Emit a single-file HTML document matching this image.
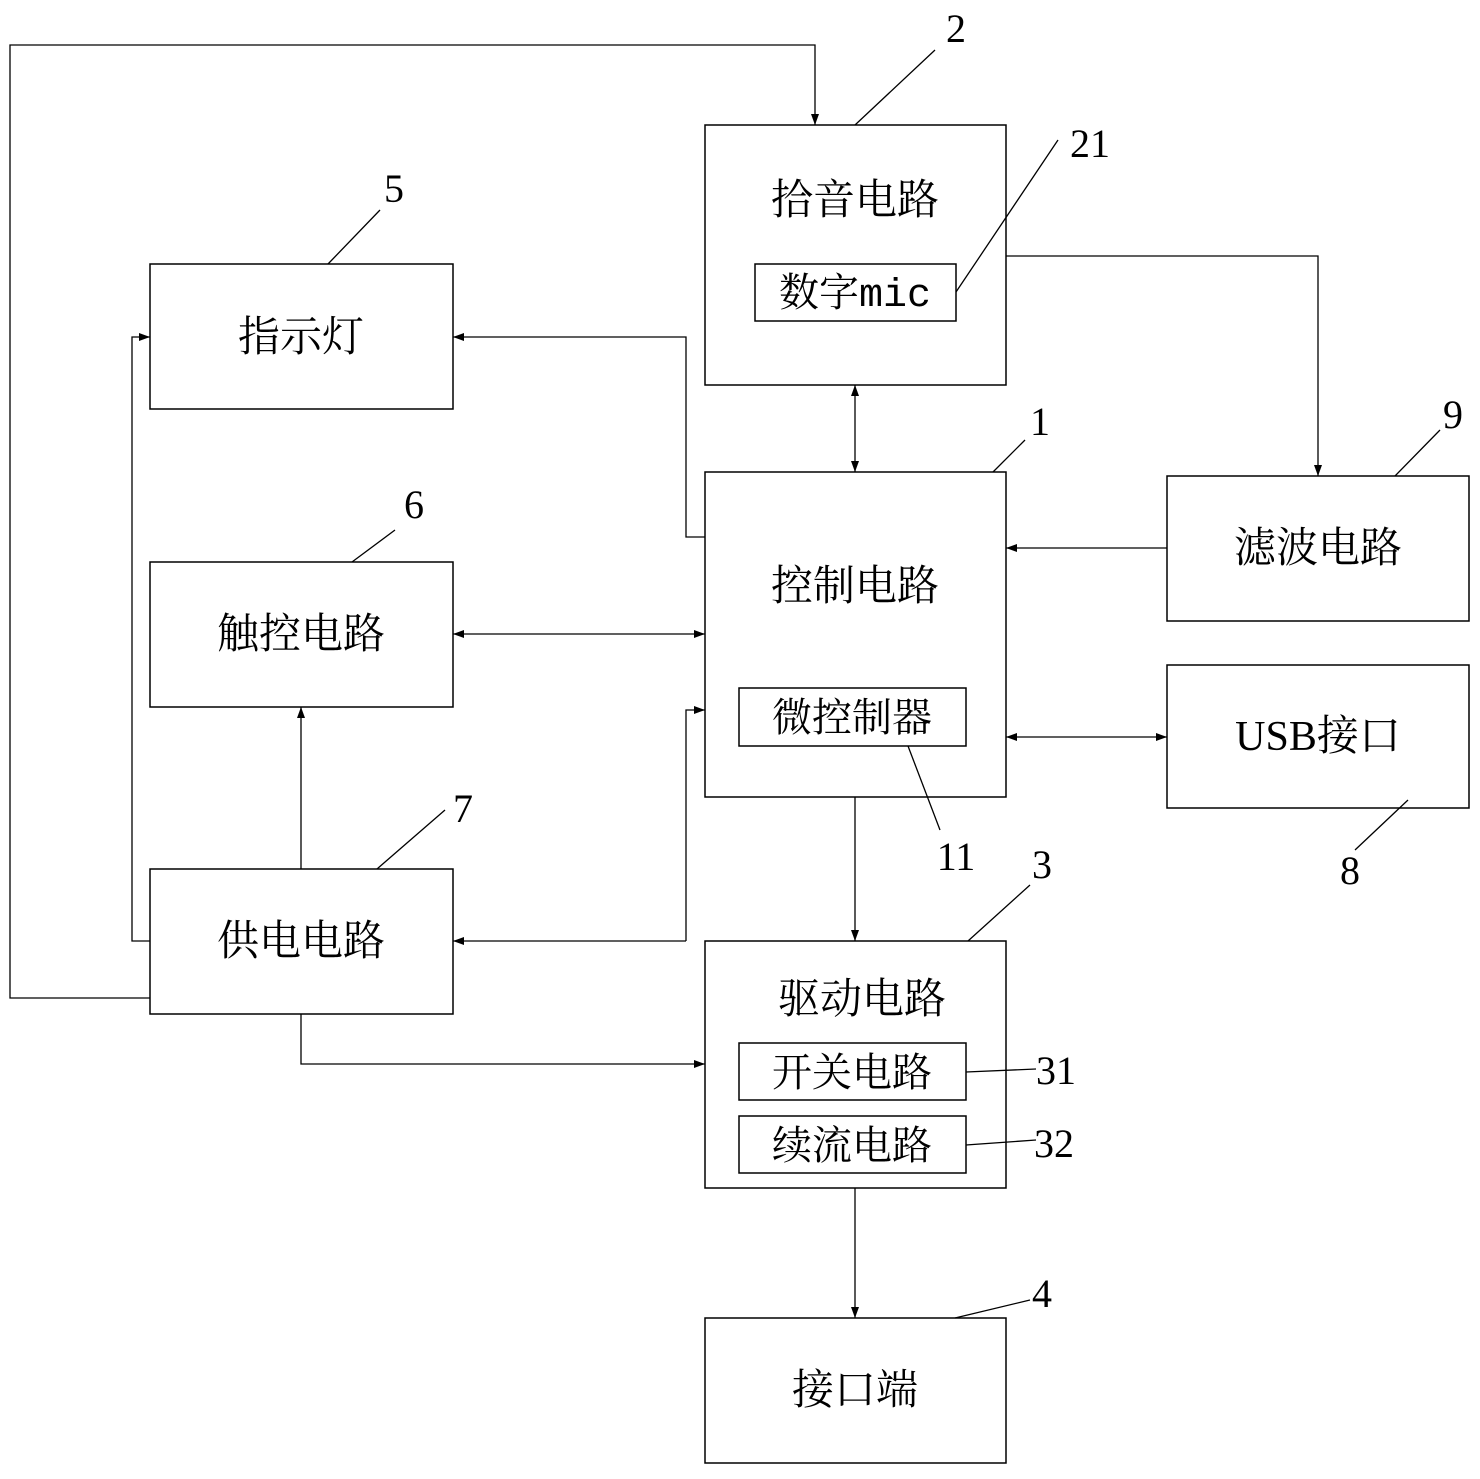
<!DOCTYPE html>
<html><head><meta charset="utf-8"><style>
html,body{margin:0;padding:0;background:#fff;}
svg text{font-family:"Liberation Serif","Noto Serif CJK SC","Noto Sans CJK SC",serif;fill:#000;}
.t{font-size:42px;text-anchor:middle;}
.s{font-size:40px;text-anchor:middle;}
.n{font-size:40px;text-anchor:middle;}
</style></head><body>
<svg width="1480" height="1474" viewBox="0 0 1480 1474" xmlns="http://www.w3.org/2000/svg">
<defs>
<marker id="a" markerWidth="12" markerHeight="10" refX="11" refY="5" orient="auto-start-reverse" markerUnits="userSpaceOnUse">
<path d="M0,1 L11,5 L0,9 Z" fill="#000"/></marker>
</defs>
<g fill="none" stroke="#000" stroke-width="1.5">
<rect x="705" y="125" width="301" height="260"/>
<rect x="755" y="264" width="201" height="57"/>
<rect x="705" y="472" width="301" height="325"/>
<rect x="739" y="688" width="227" height="58"/>
<rect x="705" y="941" width="301" height="247"/>
<rect x="739" y="1043" width="227" height="57"/>
<rect x="739" y="1116" width="227" height="57"/>
<rect x="705" y="1318" width="301" height="145"/>
<rect x="150" y="264" width="303" height="145"/>
<rect x="150" y="562" width="303" height="145"/>
<rect x="150" y="869" width="303" height="145"/>
<rect x="1167" y="476" width="302" height="145"/>
<rect x="1167" y="665" width="302" height="143"/>
</g>
<g fill="none" stroke="#000" stroke-width="1.3">
<polyline points="150,998 10,998 10,45 815,45 815,125" marker-end="url(#a)"/>
<polyline points="150,941 132,941 132,337 150,337" marker-end="url(#a)"/>
<line x1="301" y1="869" x2="301" y2="707" marker-end="url(#a)"/>
<polyline points="686,941 453,941" marker-end="url(#a)"/>
<polyline points="686,941 686,710 705,710" marker-end="url(#a)"/>
<polyline points="301,1014 301,1064 705,1064" marker-end="url(#a)"/>
<polyline points="705,537 686,537 686,337 453,337" marker-end="url(#a)"/>
<line x1="453" y1="634" x2="705" y2="634" marker-start="url(#a)" marker-end="url(#a)"/>
<line x1="855" y1="385" x2="855" y2="472" marker-start="url(#a)" marker-end="url(#a)"/>
<polyline points="1006,256 1318,256 1318,476" marker-end="url(#a)"/>
<line x1="1167" y1="548" x2="1006" y2="548" marker-end="url(#a)"/>
<line x1="1006" y1="737" x2="1167" y2="737" marker-start="url(#a)" marker-end="url(#a)"/>
<line x1="855" y1="797" x2="855" y2="941" marker-end="url(#a)"/>
<line x1="855" y1="1188" x2="855" y2="1318" marker-end="url(#a)"/>
<line x1="855" y1="125" x2="935" y2="50"/>
<line x1="956" y1="292" x2="1058" y2="140"/>
<line x1="328" y1="264" x2="380" y2="210"/>
<line x1="993" y1="472" x2="1025" y2="440"/>
<line x1="1395" y1="476" x2="1440" y2="430"/>
<line x1="352" y1="562" x2="395" y2="530"/>
<line x1="377" y1="869" x2="445" y2="810"/>
<line x1="908" y1="746" x2="940" y2="830"/>
<line x1="1408" y1="800" x2="1355" y2="850"/>
<line x1="968" y1="941" x2="1030" y2="885"/>
<line x1="966" y1="1072" x2="1036" y2="1069"/>
<line x1="966" y1="1145" x2="1036" y2="1140"/>
<line x1="955" y1="1318" x2="1030" y2="1300"/>
</g>
<text class="t" x="855" y="214">拾音电路</text>
<text class="s" x="855" y="306">数字<tspan font-family="Liberation Mono, monospace">mic</tspan></text>
<text class="t" x="855" y="600">控制电路</text>
<text class="s" x="852" y="731">微控制器</text>
<text class="t" x="862" y="1013">驱动电路</text>
<text class="s" x="852" y="1086">开关电路</text>
<text class="s" x="852" y="1159">续流电路</text>
<text class="t" x="855" y="1404">接口端</text>
<text class="t" x="301" y="351">指示灯</text>
<text class="t" x="301" y="648">触控电路</text>
<text class="t" x="301" y="955">供电电路</text>
<text class="t" x="1318" y="562">滤波电路</text>
<text class="t" x="1318" y="750">USB接口</text>
<text class="n" x="956" y="42">2</text>
<text class="n" x="1090" y="157">21</text>
<text class="n" x="394" y="202">5</text>
<text class="n" x="1040" y="435">1</text>
<text class="n" x="1453" y="428">9</text>
<text class="n" x="414" y="518">6</text>
<text class="n" x="463" y="822">7</text>
<text class="n" x="956" y="870">11</text>
<text class="n" x="1350" y="884">8</text>
<text class="n" x="1042" y="878">3</text>
<text class="n" x="1056" y="1084">31</text>
<text class="n" x="1054" y="1157">32</text>
<text class="n" x="1042" y="1307">4</text>
</svg>
</body></html>
